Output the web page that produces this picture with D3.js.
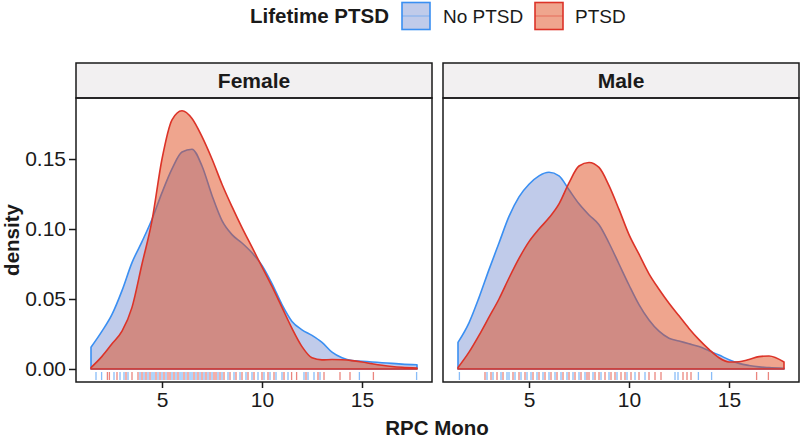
<!DOCTYPE html>
<html><head><meta charset="utf-8">
<script src="https://cdn.jsdelivr.net/npm/d3@7"></script>
<style>body{margin:0;background:#fff}svg{display:block;font-family:"Liberation Sans",Arial,Helvetica,sans-serif}</style>
</head><body>
<svg id="c" width="800" height="438"></svg>
<script>
// ---- data ----
const panels = ["Female", "Male"];
const groups = ["No PTSD", "PTSD"];
const xGrid = [1.45,2,2.5,3,3.5,4,4.5,5,5.5,6,6.5,7,7.5,8,8.5,9,9.5,10,10.5,11,11.5,12,12.5,13,13.5,14,14.5,15,15.5,16,16.5,17,17.75];
const femaleNoPTSD = [0.0155,0.027,0.039,0.056,0.076,0.091,0.107,0.126,0.143,0.155,0.157,0.145,0.124,0.106,0.096,0.090,0.083,0.074,0.061,0.046,0.034,0.028,0.024,0.019,0.012,0.008,0.006,0.0055,0.005,0.0045,0.004,0.0035,0.003];
const femalePTSD = [0.001,0.009,0.018,0.027,0.044,0.075,0.106,0.150,0.178,0.1845,0.179,0.166,0.150,0.132,0.116,0.101,0.087,0.073,0.059,0.044,0.029,0.016,0.008,0.0065,0.0068,0.0066,0.006,0.005,0.0038,0.0027,0.0018,0.0012,0.0007];
const maleNoPTSD = [0.019,0.033,0.051,0.071,0.090,0.109,0.123,0.132,0.138,0.1405,0.138,0.128,0.118,0.110,0.103,0.090,0.075,0.060,0.046,0.035,0.027,0.022,0.020,0.018,0.016,0.013,0.010,0.0066,0.004,0.0025,0.0015,0.001,0.0005];
const malePTSD = [0.001,0.012,0.024,0.037,0.050,0.065,0.079,0.091,0.100,0.108,0.118,0.133,0.145,0.1475,0.144,0.131,0.114,0.096,0.082,0.068,0.057,0.047,0.038,0.029,0.021,0.014,0.008,0.005,0.0052,0.0068,0.0088,0.0093,0.005];
const rugFemaleNoPTSD = [1.7,1.98,2.6,2.9,3.1,3.3,3.9,4.1,4.3,4.5,4.6,4.8,5.0,5.2,5.5,5.7,5.9,6.0,6.2,6.4,6.5,6.7,6.9,7.1,7.3,7.5,7.8,8.0,8.3,8.6,8.9,9.2,9.5,9.8,10.1,10.4,10.7,11.0,11.3,12.1,12.3,12.6,12.9,14.87,17.73];
const rugFemalePTSD = [2.27,2.37,2.75,3.2,3.5,3.8,4.0,4.2,4.4,4.7,4.9,5.1,5.3,5.4,5.6,5.8,6.1,6.3,6.6,6.8,7.0,7.2,7.4,7.6,7.7,7.9,8.1,8.4,8.7,9.0,9.3,9.6,10.0,10.3,10.6,11.1,11.48,11.73,12.2,12.8,13.1,13.9,14.4,15.57];
const rugMaleNoPTSD = [1.52,2.9,3.2,3.6,3.9,4.0,4.3,4.6,4.9,5.1,5.4,5.7,6.0,6.3,6.6,6.9,7.2,7.5,7.8,8.2,8.6,9.0,9.4,9.9,10.3,10.8,12.3,12.45,13.47,14.13];
const rugMalePTSD = [2.8,3.1,3.4,3.7,4.2,4.5,4.8,5.2,5.5,5.8,6.1,6.4,6.7,7.0,7.3,7.6,7.9,8.0,8.3,8.5,8.8,9.1,9.3,9.6,9.8,10.1,10.5,11.0,11.3,11.6,12.7,12.9,13.1,16.38,16.97];
const xTicks = [5, 10, 15];
const yTicks = [0, 0.05, 0.10, 0.15];

// ---- style ----
const colors = {"No PTSD": {line:"#3a8ff2", fill:"#8197d6"}, "PTSD": {line:"#dc3328", fill:"#e04b1e"}};
const densities = {Female: {"No PTSD": femaleNoPTSD, "PTSD": femalePTSD}, Male: {"No PTSD": maleNoPTSD, "PTSD": malePTSD}};
const rugs = {Female: {"No PTSD": rugFemaleNoPTSD, "PTSD": rugFemalePTSD}, Male: {"No PTSD": rugMaleNoPTSD, "PTSD": rugMalePTSD}};

const svg = d3.select("#c");
const panelLeft = [76, 443], panelW = 356;
const stripTop = 63, stripH = 35, panelTop = 98, panelBottom = 382;
const FS = 21, FSB = 20.5, FSL = 19;

const y = d3.scaleLinear().domain([-0.0093, 0.1936]).range([panelBottom, panelTop]);

panels.forEach((p, pi) => {
  const x0 = panelLeft[pi];
  const x = d3.scaleLinear().domain([0.7, 18.5]).range([x0, x0 + panelW]);
  const g = svg.append("g");
  // strip
  g.append("rect").attr("x", x0).attr("y", stripTop).attr("width", panelW).attr("height", stripH)
    .attr("fill", "#f2f0f1").attr("stroke", "#1a1a1a").attr("stroke-width", 1.5);
  g.append("text").attr("x", x0 + panelW/2).attr("y", stripTop + stripH/2 + 7.5).attr("text-anchor","middle")
    .attr("font-weight","bold").attr("font-size", FS).attr("fill","#1a1a1a").text(p);
  // clip
  const cid = "clip" + pi;
  svg.append("clipPath").attr("id", cid).append("rect").attr("x", x0).attr("y", panelTop).attr("width", panelW).attr("height", panelBottom - panelTop);
  const inner = g.append("g").attr("clip-path", `url(#${cid})`);
  groups.forEach(gr => {
    const vals = densities[p][gr];
    const pts = xGrid.map((xv, i) => [xv, vals[i]]);
    const area = d3.area().x(d => x(d[0])).y0(y(0)).y1(d => y(d[1])).curve(d3.curveMonotoneX);
    inner.append("path").attr("d", area(pts)).attr("fill", colors[gr].fill).attr("fill-opacity", 0.5)
      .attr("stroke", colors[gr].line).attr("stroke-width", 1.6).attr("stroke-linejoin","round");
  });
  groups.forEach(gr => {
    inner.selectAll(null).data(rugs[p][gr]).enter().append("line")
      .attr("x1", d => x(d)).attr("x2", d => x(d)).attr("y1", panelBottom - 2).attr("y2", panelBottom - 10)
      .attr("stroke", colors[gr].line).attr("stroke-opacity", 0.6).attr("stroke-width", 1.3);
  });
  // border
  g.append("rect").attr("x", x0).attr("y", panelTop).attr("width", panelW).attr("height", panelBottom - panelTop)
    .attr("fill", "none").attr("stroke", "#1a1a1a").attr("stroke-width", 1.5);
  // x axis
  const xa = g.append("g").attr("transform", `translate(0,${panelBottom})`)
    .call(d3.axisBottom(x).tickValues(xTicks).tickSize(6).tickPadding(4).tickFormat(d3.format("d")));
  xa.select(".domain").remove();
  xa.selectAll("line").attr("stroke","#1a1a1a").attr("stroke-width",1.5);
  xa.selectAll("text").attr("font-size", FS).attr("fill","#1a1a1a").attr("font-family",null);
  if (pi === 0) {
    const ya = g.append("g").attr("transform", `translate(${x0},0)`)
      .call(d3.axisLeft(y).tickValues(yTicks).tickSize(7).tickPadding(3).tickFormat(d3.format(".2f")));
    ya.select(".domain").remove();
    ya.selectAll("line").attr("stroke","#1a1a1a").attr("stroke-width",1.5);
    ya.selectAll("text").attr("font-size", FS).attr("fill","#1a1a1a").attr("font-family",null);
  }
});

// axis titles
svg.append("text").attr("x", 437).attr("y", 435).attr("text-anchor","middle").attr("font-weight","bold")
  .attr("font-size", FSB).attr("fill","#1a1a1a").text("RPC Mono");
svg.append("text").attr("transform","translate(19,240) rotate(-90)").attr("text-anchor","middle").attr("font-weight","bold")
  .attr("font-size", FSB).attr("fill","#1a1a1a").text("density");

// legend
const lg = svg.append("g");
lg.append("text").attr("x", 250).attr("y", 23).attr("font-weight","bold").attr("font-size", FSB).attr("fill","#1a1a1a").text("Lifetime PTSD");
const keyX = [402, 535], labX = [443, 575];
groups.forEach((gr, i) => {
  lg.append("rect").attr("x", keyX[i]).attr("y", 2.5).attr("width", 28).attr("height", 27)
    .attr("fill", colors[gr].fill).attr("fill-opacity", 0.5).attr("stroke", colors[gr].line).attr("stroke-width", 1.6);
  lg.append("line").attr("x1", keyX[i]).attr("x2", keyX[i] + 28).attr("y1", 16).attr("y2", 16)
    .attr("stroke", colors[gr].line).attr("stroke-opacity", 0.45).attr("stroke-width", 1.1);
  lg.append("text").attr("x", labX[i]).attr("y", 23).attr("font-size", FSL).attr("fill","#1a1a1a").text(gr);
});
</script>
</body></html>
